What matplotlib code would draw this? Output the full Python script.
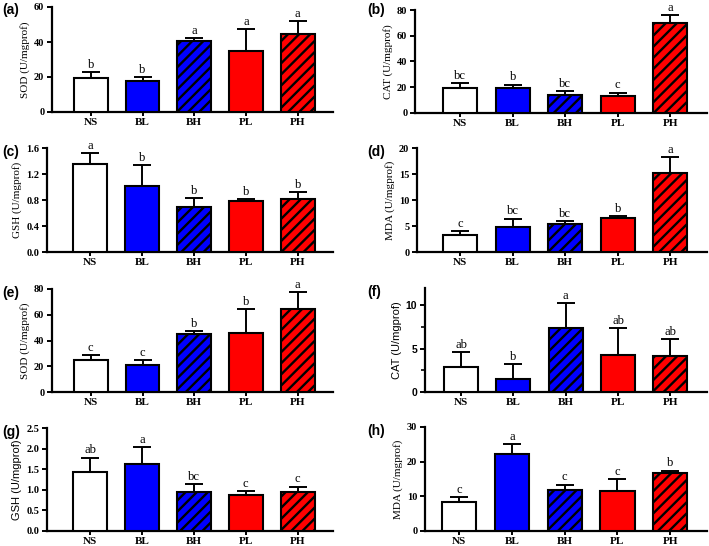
"""
Antioxidant enzyme panel — 8 bar charts (a)-(h), GraphPad-like styling.
"""
import matplotlib
matplotlib.use("Agg")
import matplotlib.pyplot as plt
from matplotlib.ticker import MultipleLocator, FormatStrFormatter

plt.rcParams["hatch.linewidth"] = 1.7
plt.rcParams["hatch.color"] = "black"

groups = ["NS", "BL", "BH", "PL", "PH"]
fills = ["white", "#0000ff", "#0000ff", "#ff0000", "#ff0000"]
hatches = [None, None, "///", None, "///"]

# means / upper error (SD) / significance letters
sod1_mean = [19.3, 17.7, 40.5, 34.6, 44.6]
sod1_err = [3.6, 2.4, 1.6, 12.7, 7.5]
sod1_sig = ["b", "b", "a", "a", "a"]

cat1_mean = [19.1, 19.8, 13.9, 13.1, 69.8]
cat1_err = [4.4, 2.2, 2.8, 2.8, 6.5]
cat1_sig = ["bc", "b", "bc", "c", "a"]

gsh1_mean = [1.35, 1.02, 0.70, 0.78, 0.82]
gsh1_err = [0.17, 0.32, 0.13, 0.03, 0.10]
gsh1_sig = ["a", "b", "b", "b", "b"]

mda1_mean = [3.3, 4.8, 5.3, 6.6, 15.1]
mda1_err = [0.7, 1.6, 0.7, 0.35, 3.2]
mda1_sig = ["c", "bc", "bc", "b", "a"]

sod2_mean = [24.8, 21.2, 45.4, 45.7, 64.8]
sod2_err = [4.1, 3.8, 1.8, 18.6, 12.9]
sod2_sig = ["c", "c", "b", "b", "a"]

cat2_mean = [2.9, 1.5, 7.35, 4.25, 4.12]
cat2_err = [1.7, 1.75, 2.9, 3.15, 2.0]
cat2_sig = ["ab", "b", "a", "ab", "ab"]

gsh2_mean = [1.43, 1.63, 0.95, 0.88, 0.94]
gsh2_err = [0.35, 0.40, 0.19, 0.08, 0.14]
gsh2_sig = ["ab", "a", "bc", "c", "c"]

mda2_mean = [8.4, 22.3, 11.8, 11.6, 16.6]
mda2_err = [1.3, 2.8, 1.6, 3.4, 0.8]
mda2_sig = ["c", "a", "c", "c", "b"]

W, H = 709, 546

# (tag, ylabel, mean, err, sig, ymax, ystep, rect px [left, top, right, bottom], xlim, sans)
panels = [
    ("(a)", "SOD (U/mgprof)", sod1_mean, sod1_err, sod1_sig, 60, 20, (52, 7, 333, 112), (-0.75, 4.68), False),
    ("(b)", "CAT (U/mgprof)", cat1_mean, cat1_err, cat1_sig, 80, 20, (415, 10, 707, 113), (-0.86, 4.7), False),
    ("(c)", "GSH (U/mgprof)", gsh1_mean, gsh1_err, gsh1_sig, 1.6, 0.4, (47, 148, 333, 252), (-0.83, 4.68), False),
    ("(d)", "MDA (U/mgprof)", mda1_mean, mda1_err, mda1_sig, 20, 5, (417, 148, 707, 252), (-0.82, 4.7), False),
    ("(e)", "SOD (U/mgprof)", sod2_mean, sod2_err, sod2_sig, 80, 20, (52, 289, 333, 392), (-0.75, 4.68), False),
    ("(f)", "CAT (U/mgprof)", cat2_mean, cat2_err, cat2_sig, 12, 5, (425, 288, 707, 392), (-0.69, 4.7), True),
    ("(g)", "GSH (U/mgprof)", gsh2_mean, gsh2_err, gsh2_sig, 2.5, 0.5, (47, 428, 333, 531), (-0.83, 4.68), True),
    ("(h)", "MDA (U/mgprof)", mda2_mean, mda2_err, mda2_sig, 30, 10, (425, 427, 707, 531), (-0.65, 4.7), False),
]

SERIF = "Liberation Serif"
SANS = "Liberation Sans"

fig = plt.figure(figsize=(W / 100, H / 100), dpi=100)
fig.patch.set_facecolor("white")

for tag, ylab, mean, err, sig, ymax, ystep, (l, t, r, b), xlim, sans in panels:
    ax = fig.add_axes([l / W, 1 - b / H, (r - l) / W, (b - t) / H])
    x = list(range(len(groups)))
    bars = ax.bar(x, mean, width=0.65, color=fills, edgecolor="black", linewidth=1.5, zorder=3)
    for bar, h in zip(bars, hatches):
        if h:
            bar.set_hatch(h)
    ax.errorbar(x, mean, yerr=[[0] * len(err), err], fmt="none", ecolor="black",
                elinewidth=1.4, capsize=6.5, capthick=1.4, zorder=2)
    for xi, m, e, s in zip(x, mean, err, sig):
        ax.text(xi, m + e + ymax * 0.012, s, ha="center", va="bottom",
                fontsize=9, family=SERIF, color="black")

    ax.set_xlim(*xlim)
    ax.set_ylim(0, ymax)
    ax.yaxis.set_major_locator(MultipleLocator(ystep))
    if tag == "(f)":
        ax.yaxis.set_minor_locator(MultipleLocator(2.5))
        ax.tick_params(axis="y", which="minor", length=3, width=1.2)
    if tag in ("(c)", "(g)"):
        ax.yaxis.set_major_formatter(FormatStrFormatter("%.1f"))
    else:
        ax.yaxis.set_major_formatter(FormatStrFormatter("%d"))

    ax.set_xticks(x)
    ax.set_xticklabels(groups)
    for sp in ("top", "right"):
        ax.spines[sp].set_visible(False)
    for sp in ("left", "bottom"):
        ax.spines[sp].set_linewidth(1.6)
    ax.tick_params(axis="y", which="major", length=3.5, width=1.4, pad=2)
    ax.tick_params(axis="x", which="major", length=3, width=1.4, pad=1)

    tick_font = SANS if tag == "(f)" else SERIF
    for lab in ax.get_yticklabels():
        lab.set_fontfamily(tick_font)
        lab.set_fontweight("bold")
        lab.set_fontsize(7.5)
    for lab in ax.get_xticklabels():
        lab.set_fontfamily(SERIF)
        lab.set_fontweight("bold")
        lab.set_fontsize(8)

    ax.set_ylabel(ylab, family=SANS if sans else SERIF, fontsize=8, labelpad=3)

    ty = t + 4 if t > 20 else 10
    fig.text((2 if l < 300 else 367) / W, 1 - ty / H, tag, family=SANS,
             fontweight="bold", fontsize=10, va="center", ha="left")

fig.savefig("out.png", dpi=100)
